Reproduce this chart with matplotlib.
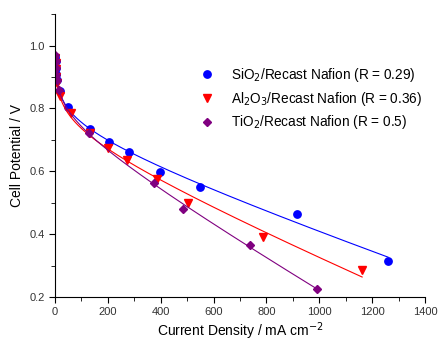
import numpy as np
import matplotlib.pyplot as plt
from matplotlib.ticker import MultipleLocator

plt.rcParams['font.family'] = ['Liberation Sans', 'DejaVu Sans']

# data
si_i = [1, 2, 3, 5, 8, 19, 49, 132, 204, 280, 397, 549, 916, 1260]
si_v = [0.965, 0.95, 0.93, 0.91, 0.89, 0.857, 0.806, 0.735, 0.694, 0.662, 0.598, 0.551, 0.465, 0.315]

al_i = [1, 2, 3, 5, 8, 19, 61, 132, 200, 272, 385, 504, 787, 1162]
al_v = [0.96, 0.945, 0.925, 0.9, 0.88, 0.838, 0.786, 0.722, 0.675, 0.637, 0.576, 0.50, 0.39, 0.286]

ti_i = [1, 2, 3, 5, 8, 15, 130, 375, 483, 738, 991]
ti_v = [0.97, 0.95, 0.93, 0.905, 0.89, 0.86, 0.722, 0.563, 0.48, 0.366, 0.226]

labels = ['SiO$_2$/Recast Nafion (R = 0.29)',
          'Al$_2$O$_3$/Recast Nafion (R = 0.36)',
          'TiO$_2$/Recast Nafion (R = 0.5)']
colors = ['#0000ff', '#ff0000', '#800080']
markers = ['o', 'v', 'D']
msizes = [5.3, 5.8, 4.2]


def fit_curve(i, v):
    # E = E0 - b ln(i) - R i, least squares on the points
    i = np.array(i, float)
    v = np.array(v, float)
    A = np.column_stack([np.ones_like(i), -np.log(i), -i])
    coef = np.linalg.lstsq(A, v, rcond=None)[0]
    xx = np.linspace(i.min(), i.max(), 400)
    return xx, coef[0] - coef[1] * np.log(xx) - coef[2] * xx


fig = plt.figure(figsize=(4.4, 3.42), dpi=100)
ax = fig.add_axes([0.125, 0.1316, 0.841, 0.827])

sets = [(si_i, si_v), (al_i, al_v), (ti_i, ti_v)]
for (i, v), lab, c, m, ms in zip(sets, labels, colors, markers, msizes):
    xx, yy = fit_curve(i, v)
    ax.plot(xx, yy, color=c, lw=0.8)
    ax.plot(i, v, ls='none', marker=m, color=c, ms=ms, label=lab)

ax.set_xlim(0, 1400)
ax.set_ylim(0.2, 1.1)
ax.xaxis.set_major_locator(MultipleLocator(200))
ax.xaxis.set_minor_locator(MultipleLocator(100))
ax.yaxis.set_minor_locator(MultipleLocator(0.1))
ax.set_yticks([0.2, 0.4, 0.6, 0.8, 1.0])
ax.tick_params(which='both', direction='out', labelsize=8, length=4, labelcolor='#333333')
ax.tick_params(which='minor', length=3)
ax.spines['top'].set_visible(False)
ax.spines['right'].set_visible(False)
ax.set_xlabel('Current Density / mA cm$^{-2}$', fontsize=10, labelpad=2)
ax.set_ylabel('Cell Potential / V', fontsize=10)

ax.legend(loc='upper left', bbox_to_anchor=(0.35, 0.86), frameon=False,
          fontsize=9.8, handletextpad=1.0, labelspacing=0.42, handlelength=1.5)

fig.savefig('out.png', dpi=100)
